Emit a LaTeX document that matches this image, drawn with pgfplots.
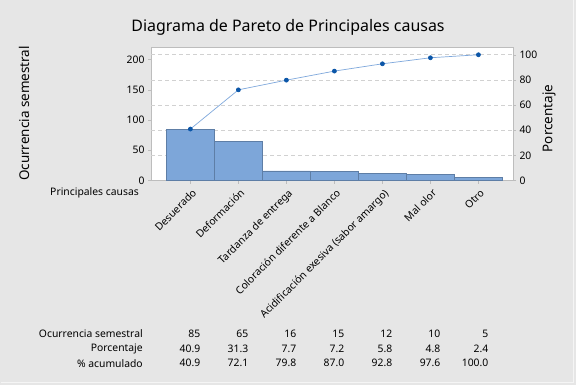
\documentclass[border=0pt]{standalone}
\usepackage{pgfplots}
\pgfplotsset{compat=1.18}
\usepackage{fontspec}
\setmainfont{Noto Sans}
\definecolor{bg}{HTML}{E6E6E6}
\definecolor{barfill}{HTML}{7DA6D9}
\definecolor{barline}{HTML}{5E7EA6}
\definecolor{cumline}{HTML}{7FA8DC}
\definecolor{cummark}{HTML}{0B56A8}
\definecolor{framec}{HTML}{BDBDBD}
\newcommand{\sm}{\fontsize{10.4}{12}\selectfont}
\begin{document}
\begin{tikzpicture}[x=1bp,y=1bp]
\fill[bg] (0,0) rectangle (576,384);
\draw[white!60!bg, line width=1bp] (1,2.5) -- (573.5,2.5) -- (573.5,384);
\useasboundingbox (0,0) rectangle (576,384);
\node[font=\fontsize{16}{19}\selectfont] at (288,357) {Diagrama de Pareto de Principales causas};
\node[rotate=90, font=\fontsize{13.5}{16}\selectfont] at (24,271) {Ocurrencia semestral};
\node[rotate=90, font=\fontsize{13.5}{16}\selectfont] at (549,266) {Porcentaje};
\node[anchor=east, font=\sm, inner sep=0pt] at (139,191.3) {Principales causas};
\begin{axis}[
  at={(151bp,204bp)}, anchor=south west,
  width=362bp, height=133bp, scale only axis,
  xmin=-0.82, xmax=6.72, ymin=0, ymax=220,
  axis background/.style={fill=white},
  axis line style={framec},
  tick style={framec, thin},
  tick align=outside, major tick length=3bp,
  axis y line*=left, axis x line*=bottom,
  ytick={0,50,100,150,200},
  extra y ticks={41.6,83.2,124.8,166.4,208},
  extra y tick labels={},
  extra y tick style={grid=major, major tick length=0pt, major grid style={dash pattern=on 4bp off 3bp, framec!70, line width=0.6bp}},
  xtick={0,1,2,3,4,5,6},
  xticklabels={Desuerado, Deformación, Tardanza de entrega, Coloración diferente a Blanco, Acidificación exesiva (sabor amargo), Mal olor, Otro},
  xticklabel style={rotate=45, anchor=north east, font=\sm, inner sep=1bp, xshift=-1.5bp, yshift=-3bp},
  yticklabel style={font=\sm},
  /pgf/number format/assume math mode=true,
  clip=false,
]
\addplot[ybar, bar width=1, fill=barfill, draw=barline, line width=0.6bp] coordinates {(0,85) (1,65) (2,16) (3,15) (4,12) (5,10) (6,5)};
\foreach \xx/\a/\b/\c in {0/85/40.9/40.9, 1/65/31.3/72.1, 2/16/7.7/79.8, 3/15/7.2/87.0, 4/12/5.8/92.8, 5/10/4.8/97.6, 6/5/2.4/100.0}{
  \edef\tmp{\noexpand\node[anchor=east, inner sep=0pt, font=\noexpand\sm] at (axis cs:\xx+0.21,0) [yshift=-153.3bp] {\a};
  \noexpand\node[anchor=east, inner sep=0pt, font=\noexpand\sm] at (axis cs:\xx+0.21,0) [yshift=-168.3bp] {\b};
  \noexpand\node[anchor=east, inner sep=0pt, font=\noexpand\sm] at (axis cs:\xx+0.21,0) [yshift=-182.7bp] {\c};}
  \tmp
}
\node[anchor=east, inner sep=0pt, font=\sm] at (axis cs:-0.5,0) [xshift=-23.4bp, yshift=-153.3bp] {Ocurrencia semestral};
\node[anchor=east, inner sep=0pt, font=\sm] at (axis cs:-0.5,0) [xshift=-23.4bp, yshift=-168.3bp] {Porcentaje};
\node[anchor=east, inner sep=0pt, font=\sm] at (axis cs:-0.5,0) [xshift=-23.4bp, yshift=-182.7bp] {\% acumulado};
\end{axis}
\begin{axis}[
  at={(151bp,204bp)}, anchor=south west,
  width=362bp, height=133bp, scale only axis,
  xmin=-0.82, xmax=6.72, ymin=0, ymax=105.77,
  axis y line*=right, axis x line=none,
  axis line style={framec},
  tick style={framec, thin},
  tick align=outside, major tick length=3bp,
  ytick={0,20,40,60,80,100},
  yticklabel style={font=\sm},
  /pgf/number format/assume math mode=true,
  clip=false,
]
\addplot[cumline, line width=0.7bp, mark=*, mark size=2bp, mark options={fill=cummark, draw=cummark}] coordinates {(0,40.9) (1,72.1) (2,79.8) (3,87.0) (4,92.8) (5,97.6) (6,100.0)};
\draw[framec] (rel axis cs:0,1) -- (rel axis cs:1,1);
\end{axis}
\end{tikzpicture}
\end{document}
